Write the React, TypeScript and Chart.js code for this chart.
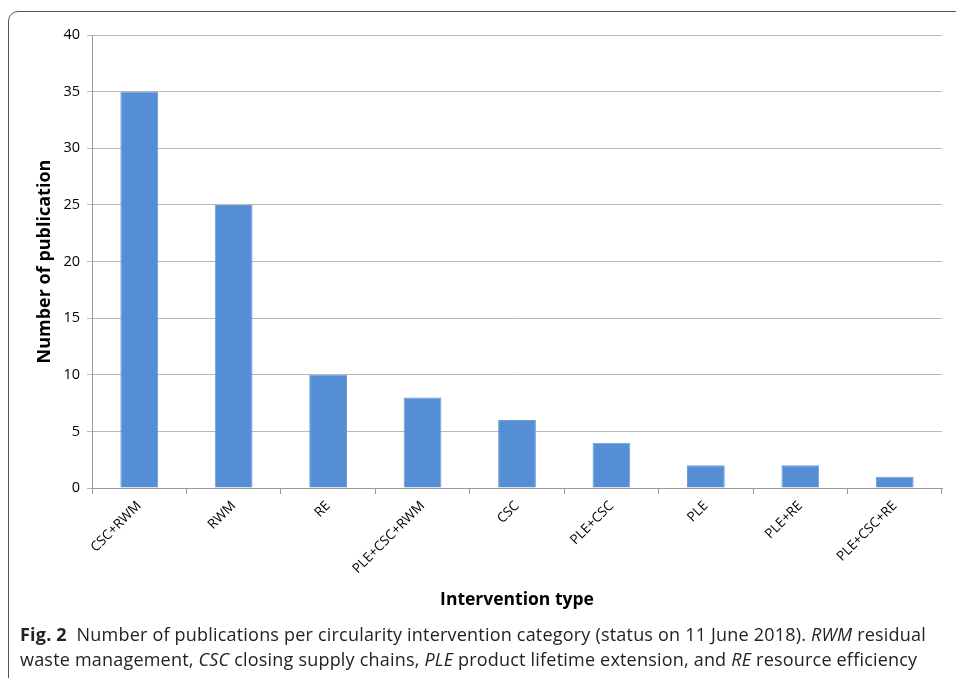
import React, { useEffect, useRef } from "react";
import { Chart, registerables } from "chart.js";

Chart.register(...registerables);

const categories = ["CSC+RWM", "RWM", "RE", "PLE+CSC+RWM", "CSC", "PLE+CSC", "PLE", "PLE+RE", "PLE+CSC+RE"];
const publications = [35, 25, 10, 8, 6, 4, 2, 2, 1];
const yMin = 0;
const yMax = 40;
const yStep = 5;

const CANVAS_W = 956;
const CANVAS_H = 615;

export default function App() {
  const ref = useRef<HTMLCanvasElement | null>(null);

  useEffect(() => {
    if (!ref.current) return;
    const chart = new Chart(ref.current, {
      type: "bar",
      data: {
        labels: categories,
        datasets: [
          {
            data: publications,
            backgroundColor: "#558ED5",
            borderColor: "#6A9CDB",
            borderWidth: 1,
            barPercentage: 0.4,
            categoryPercentage: 1,
          },
        ],
      },
      options: {
        animation: false,
        responsive: true,
        maintainAspectRatio: false,
        layout: { padding: { top: 35, right: 14, left: 30, bottom: 0 } },
        plugins: { legend: { display: false }, tooltip: { enabled: false } },
        scales: {
          x: {
            afterFit: (s: any) => {
              s.height = CANVAS_H - 488;
            },
            grid: {
              offset: true,
              drawOnChartArea: false,
              drawTicks: true,
              tickLength: 6,
              color: "#999999",
            },
            border: { display: true, color: "#999999", width: 1 },
            ticks: {
              minRotation: 45,
              maxRotation: 45,
              padding: 4,
              color: "#000000",
              font: { family: "'Open Sans', sans-serif", size: 13.5 },
              autoSkip: false,
            },
            title: {
              display: true,
              text: "Intervention type",
              color: "#000000",
              font: { family: "'Open Sans', sans-serif", size: 17.5, weight: "bold" },
              padding: { top: 0, bottom: 4 },
            },
          },
          y: {
            min: yMin,
            max: yMax,
            afterFit: (s: any) => {
              s.width = 92 - 30;
            },
            grid: {
              color: "#b8b8b8",
              drawTicks: true,
              tickLength: 5,
            },
            border: { display: true, color: "#999999", width: 1 },
            ticks: {
              stepSize: yStep,
              padding: 7,
              color: "#000000",
              font: { family: "'Open Sans', sans-serif", size: 14.5 },
            },
            title: {
              display: true,
              text: "Number of publication",
              color: "#000000",
              font: { family: "'Open Sans', sans-serif", size: 18, weight: "bold" },
              padding: { top: 4, bottom: 0 },
            },
          },
        },
      },
    });
    return () => chart.destroy();
  }, []);

  const captionStyle: React.CSSProperties = {
    position: "fixed",
    left: 20,
    fontFamily: "'Open Sans', sans-serif",
    fontSize: 18,
    letterSpacing: "0.2px",
    color: "#222",
    whiteSpace: "nowrap",
    lineHeight: "20px",
  };

  return (
    <div>
      <div
        style={{
          position: "fixed",
          left: 8,
          top: 11,
          width: 1000,
          height: 720,
          border: "1.5px solid #555",
          borderTopLeftRadius: 10,
          boxSizing: "border-box",
        }}
      />
      <div style={{ position: "fixed", left: 0, top: 0, width: CANVAS_W, height: CANVAS_H }}>
        <canvas ref={ref} />
      </div>
      <div style={{ ...captionStyle, top: 624 }}>
        <b>Fig. 2</b>&nbsp;&nbsp;Number of publications per circularity intervention category (status on 11 June 2018). <i>RWM</i> residual
      </div>
      <div style={{ ...captionStyle, top: 649 }}>
        waste management, <i>CSC</i> closing supply chains, <i>PLE</i> product lifetime extension, and <i>RE</i> resource efficiency
      </div>
    </div>
  );
}
